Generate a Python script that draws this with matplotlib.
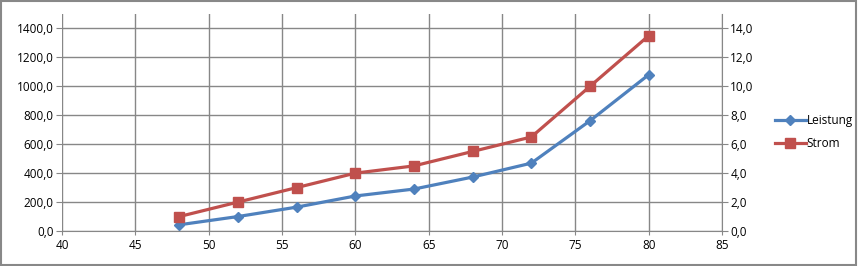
import matplotlib.pyplot as plt
from matplotlib.patches import Rectangle
from matplotlib.ticker import FuncFormatter

# data
spannung = [48, 52, 56, 60, 64, 68, 72, 76, 80]
leistung = [43, 100, 165, 242, 290, 373, 469, 762, 1080]
strom = [1.0, 2.0, 3.0, 4.0, 4.5, 5.5, 6.5, 10.0, 13.5]

blue = '#4F81BD'
red = '#C0504D'
grid_col = '#878787'

plt.rcParams['font.family'] = ['Open Sans', 'DejaVu Sans']
plt.rcParams['font.size'] = 8.5

fig = plt.figure(figsize=(8.58, 2.66), dpi=100)
ax = fig.add_axes([62/858, 1-231/266, 660/858, 217/266])
ax2 = ax.twinx()

komma = FuncFormatter(lambda v, p: ('%.1f' % v).replace('.', ','))

ax.set_xlim(40, 85)
ax.set_ylim(0, 1500)
ax.set_xticks(range(40, 86, 5))
ax.set_yticks(range(0, 1401, 200))
ax.yaxis.set_major_formatter(komma)
ax.grid(True, color=grid_col, linewidth=1)
ax.set_axisbelow(True)

ax2.set_ylim(0, 15)
ax2.set_yticks(range(0, 15, 2))
ax2.yaxis.set_major_formatter(komma)

for a in (ax, ax2):
    for s in a.spines.values():
        s.set_visible(False)
    a.tick_params(length=4, color=grid_col, pad=2, labelcolor='black')
ax2.spines['right'].set_visible(True)
ax2.spines['right'].set_color(grid_col)
ax.spines['bottom'].set_visible(True)
ax.spines['bottom'].set_color(grid_col)
ax.tick_params(axis='x', length=3, pad=3)

l1, = ax.plot(spannung, leistung, color=blue, linewidth=2.3, marker='D',
              markersize=5.5, label='Leistung', clip_on=False)
l2, = ax2.plot(spannung, strom, color=red, linewidth=2.3, marker='s',
               markersize=7.5, label='Strom', clip_on=False)

fig.legend(handles=[l1, l2], loc='center left', bbox_to_anchor=(769/858, 1-132/266),
           frameon=False, handlelength=2.6, handletextpad=0.1, labelspacing=0.9,
           fontsize=8.5, borderpad=0)

fig.patches.append(Rectangle((0.001, 0.002), 0.997, 0.995, transform=fig.transFigure,
                             fill=False, edgecolor='#888888', linewidth=1.5))

fig.savefig('out.png', dpi=100)
